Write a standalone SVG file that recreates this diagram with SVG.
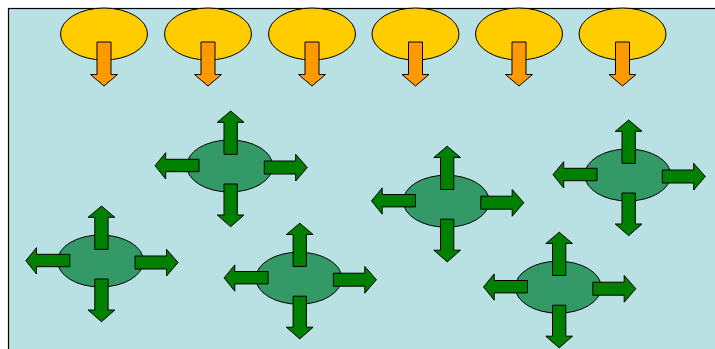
<svg xmlns="http://www.w3.org/2000/svg" xmlns:xlink="http://www.w3.org/1999/xlink" width="715" height="349" viewBox="0 0 715 349">
  <style>
    .bg{fill:#B9E0E3;stroke:#000;stroke-width:1.2}
    .sun{fill:#FFCC00;stroke:#000;stroke-width:1}
    .ray{fill:#FF9900;stroke:#000;stroke-width:1}
    .cell{fill:#339966;stroke:#000;stroke-width:1}
    .arr{fill:#008000;stroke:#000;stroke-width:1}
  </style>
  <defs>
    <g id="sunT">
      <ellipse class="sun" cx="0" cy="0" rx="43.5" ry="26"/>
      <polygon class="ray" points="-7,8 7,8 7,40.5 13.5,40.5 0,52 -13.5,40.5 -7,40.5"/>
    </g>
    <g id="cellT">
      <ellipse class="cell" cx="0" cy="0" rx="43" ry="26"/>
      <polygon class="arr" points="-5.7,-11.7 7.6,-11.7 7.6,-43.7 14.3,-43.7 1,-55 -12.4,-43.7 -5.7,-43.7"/>
      <polygon class="arr" points="-5.7,18 7.6,18 7.6,49 14.3,49 1,60.7 -12.4,49 -5.7,49"/>
      <polygon class="arr" points="-30.7,-6.7 -30.7,5.7 -64,5.7 -64,13 -74.7,-0.3 -64,-13.3 -64,-6.7"/>
      <polygon class="arr" points="34.6,-5 34.6,8 66,8 66,15 77.6,1.5 66,-11.7 66,-5"/>
    </g>
  </defs>
  <rect class="bg" x="8.5" y="8.5" width="720" height="350"/>
  <g id="connectors"></g>
  <g id="sun1"><use xlink:href="#sunT" x="104" y="34"/></g>
  <g id="sun2"><use xlink:href="#sunT" x="208" y="34"/></g>
  <g id="sun3"><use xlink:href="#sunT" x="312" y="34"/></g>
  <g id="sun4"><use xlink:href="#sunT" x="415.5" y="34"/></g>
  <g id="sun5"><use xlink:href="#sunT" x="519" y="34"/></g>
  <g id="sun6"><use xlink:href="#sunT" x="622.5" y="34"/></g>
  <g id="cellA"><use xlink:href="#cellT" x="100.5" y="261"/></g>
  <g id="cellB"><use xlink:href="#cellT" x="229.7" y="166"/></g>
  <g id="cellC"><use xlink:href="#cellT" x="298.8" y="278.2"/></g>
  <g id="cellD"><use xlink:href="#cellT" x="446.2" y="201.2"/></g>
  <g id="cellE"><use xlink:href="#cellT" x="627.7" y="175"/></g>
  <g id="cellF"><use xlink:href="#cellT" x="558.2" y="287.2"/></g>
</svg>
